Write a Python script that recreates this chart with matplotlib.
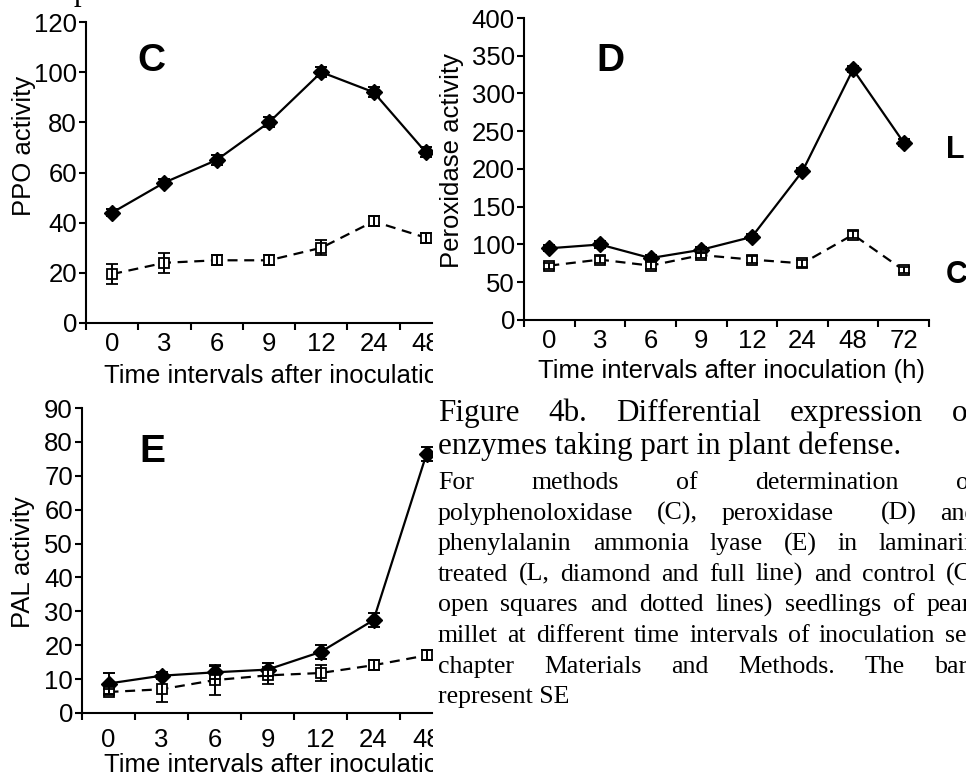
import matplotlib
matplotlib.use("Agg")
import matplotlib.pyplot as plt
from matplotlib.transforms import Bbox, TransformedBbox
import numpy as np

# values
ppo_times = ["0", "3", "6", "9", "12", "24", "48"]
ppo_L = [44, 56, 65, 80, 100, 92, 68]
ppo_L_err = [1.5, 1.5, 2, 2, 2, 2, 2]
ppo_C = [19.5, 24, 25, 25, 30, 40.5, 34]
ppo_C_err = [4, 4, 2, 2, 3, 2, 2]

pox_times = ["0", "3", "6", "9", "12", "24", "48", "72"]
pox_L = [95, 100, 82, 93, 110, 197, 332, 235]
pox_L_err = [4, 5, 4, 4, 4, 4, 4, 5]
pox_C = [72, 80, 72, 86, 80, 75, 113, 66]
pox_C_err = [4, 5, 5, 4, 5, 5, 5, 4]

pal_times = ["0", "3", "6", "9", "12", "24", "48"]
pal_L = [8.7, 11, 12, 12.8, 18, 27.4, 76.4]
pal_L_err = [3, 1, 2, 2, 2, 2, 2]
pal_C = [6.2, 7, 9.7, 11.1, 11.8, 14.1, 17]
pal_C_err = [1, 3.7, 4.5, 2.5, 2.5, 1.5, 1.5]

xlabel = "Time intervals after inoculation (h)"

title_lines = ["Figure 4b. Differential expression of",
               "enzymes taking part in plant defense."]
body_lines = ["For methods of determination of",
              "polyphenoloxidase (C), peroxidase  (D) and",
              "phenylalanin ammonia lyase (E) in laminarin",
              "treated (L, diamond and full line) and control (C,",
              "open squares and dotted lines) seedlings of pearl",
              "millet at different time intervals of inoculation see",
              "chapter Materials and Methods. The bars",
              "represent SE"]

W, H = 966, 775
FS = 18.5
plt.rcParams["font.family"] = "Liberation Sans"
fig = plt.figure(figsize=(W / 100, H / 100), dpi=100)


def fx(x):
    return x / W


def fy(y):
    return 1 - y / H


def add_ax(left, top, right, bottom):
    return fig.add_axes([fx(left), fy(bottom), (right - left) / W, (bottom - top) / H])


def draw_panel(ax, labels, L, Lerr, C, Cerr, ymax, ystep, xmax, xpad):
    x = np.arange(len(labels))
    ax.errorbar(x, L, yerr=Lerr, color="black", lw=1.6, marker="D", ms=8.5,
                capsize=4.5, elinewidth=1.4, capthick=1.4, barsabove=True)
    ax.errorbar(x, C, yerr=Cerr, color="black", lw=1.6, ls=(0, (4.5, 3)),
                marker="s", ms=7, mfc="white", mec="black", mew=1.3,
                capsize=4.5, elinewidth=1.4, capthick=1.4, barsabove=True)
    ax.spines[["top", "right"]].set_visible(False)
    for s in ("left", "bottom"):
        ax.spines[s].set_linewidth(1.5)
    ax.set_xticks(np.arange(len(labels) + 1) - 0.5)
    ax.set_xticklabels([])
    ax.set_xticks(x, labels, minor=True)
    ax.tick_params(axis="x", which="major", direction="out", length=5, width=1.5)
    ax.tick_params(axis="x", which="minor", length=0, pad=xpad, labelsize=FS)
    ax.set_yticks(np.arange(0, ymax + 1, ystep))
    ax.tick_params(axis="y", direction="out", length=5, width=1.5, pad=1.5, labelsize=FS)
    # limits last: set_xticks would widen them again
    ax.set_xlim(-0.5, xmax)
    ax.set_ylim(0, ymax)


def clip_right(ax, xr):
    box = TransformedBbox(Bbox.from_extents(0, 0, fx(xr), 1), fig.transFigure)
    for t in ax.get_xticklabels(minor=True) + [ax.xaxis.label]:
        t.set_clip_box(box)
        t.set_clip_on(True)


# panel C: PPO
axC = add_ax(86, 22, 432, 323)
draw_panel(axC, ppo_times, ppo_L, ppo_L_err, ppo_C, ppo_C_err, 120, 20,
           (432 - 86) / 52.3 - 0.5, 6.5)
axC.set_xlabel(xlabel, fontsize=FS, va="baseline")
axC.xaxis.set_label_coords(fx(298), fy(383), transform=fig.transFigure)
axC.set_ylabel("PPO activity", fontsize=FS, va="center", ha="center")
axC.yaxis.set_label_coords(fx(24), fy(146), transform=fig.transFigure)
clip_right(axC, 433)

# panel D: peroxidase
axD = add_ax(524, 18, 929, 320)
draw_panel(axD, pox_times, pox_L, pox_L_err, pox_C, pox_C_err, 400, 50, 7.5, 6.5)
axD.set_xlabel(xlabel, fontsize=FS, va="baseline")
axD.xaxis.set_label_coords(fx(731), fy(378), transform=fig.transFigure)
axD.set_ylabel("Peroxidase activity", fontsize=FS, va="center", ha="center")
axD.yaxis.set_label_coords(fx(452), fy(161), transform=fig.transFigure)

# panel E: PAL
axE = add_ax(82, 408, 432, 713)
draw_panel(axE, pal_times, pal_L, pal_L_err, pal_C, pal_C_err, 90, 10,
           (432 - 82) / 53.0 - 0.5, 11)
axE.set_xlabel(xlabel, fontsize=FS, va="baseline")
axE.xaxis.set_label_coords(fx(298), fy(772), transform=fig.transFigure)
axE.set_ylabel("PAL activity", fontsize=FS, va="center", ha="center")
axE.yaxis.set_label_coords(fx(23), fy(562), transform=fig.transFigure)
clip_right(axE, 433)

# panel letters
for letter, x, y in [("C", 151, 61), ("D", 610, 61), ("E", 152, 452)]:
    fig.text(fx(x), fy(y), letter, fontsize=28, fontweight="bold",
             ha="center", va="center")
fig.text(fx(946), fy(150), "L", fontsize=22, fontweight="bold", va="center")
fig.text(fx(946), fy(275), "C", fontsize=22, fontweight="bold", va="center")

# caption, justified like the page it was cut from
fig.text(fx(74), fy(0), "p", family="Liberation Serif", fontsize=22.4, va="baseline")
renderer = fig.canvas.get_renderer()
x0, R = 438, 978


def put_line(line, y, size, justify):
    if not justify:
        fig.text(fx(x0), fy(y), line, family="Liberation Serif", fontsize=size,
                 va="baseline")
        return
    words = line.split(" ")
    texts = [fig.text(0, fy(y), w, family="Liberation Serif", fontsize=size,
                      va="baseline") for w in words]
    widths = [t.get_window_extent(renderer).width for t in texts]
    gap = (R - x0 - sum(widths)) / (len(words) - 1)
    x = x0
    for t, w in zip(texts, widths):
        t.set_x(fx(x))
        x += w + gap


put_line(title_lines[0], 421, 22.4, True)
put_line(title_lines[1], 454, 22.4, False)
for i, line in enumerate(body_lines):
    put_line(line, 489 + 30.6 * i, 18.6, i < len(body_lines) - 1)

fig.savefig("out.png", dpi=100)
